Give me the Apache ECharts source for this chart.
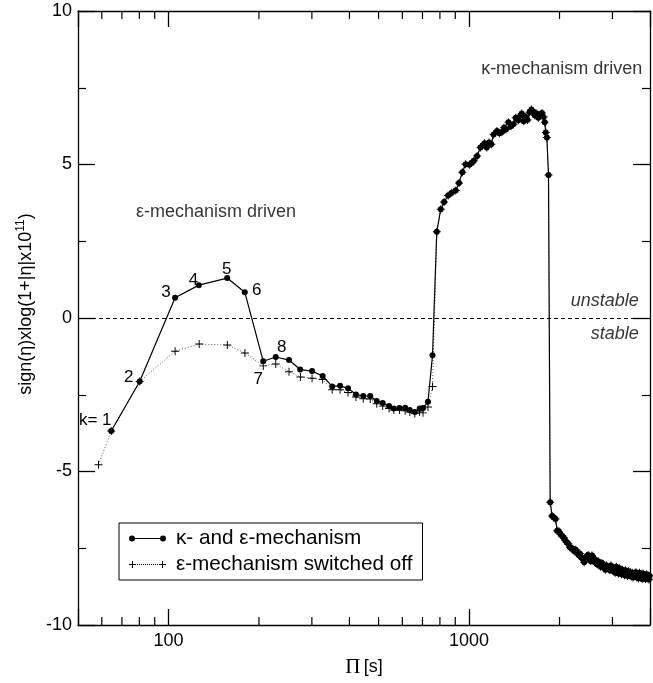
<!DOCTYPE html>
<html><head><meta charset="utf-8">
<script src="https://cdn.jsdelivr.net/npm/echarts@6/dist/echarts.min.js"></script>
<style>html,body{margin:0;padding:0;background:#fff}#c{width:653px;height:683px}</style>
</head><body><div id="c"></div>
<script>
// ---- data ----
const periodsLowFull = [64.5, 80.2, 105.2, 126.2, 156.8, 179.4, 206.7, 227.5, 251.8, 274.3, 300.4, 325.8, 350.5, 372.4, 395.7, 420.5, 444.7, 469, 493, 516, 542, 562, 587, 613, 635, 660, 685, 703, 730, 756];
const etaLowFull = [-3.68, -2.07, 0.66, 1.07, 1.30, 0.84, -1.41, -1.27, -1.37, -1.68, -1.73, -1.89, -2.23, -2.21, -2.29, -2.49, -2.54, -2.54, -2.70, -2.77, -2.87, -2.95, -2.93, -2.92, -3.00, -3.06, -2.95, -2.93, -2.73, -1.21];
const periodsLowOff = [58.5, 64.5, 80.2, 105.2, 126.5, 157, 179.6, 206.7, 227.5, 251.8, 274.8, 300.4, 325.8, 350.5, 372.4, 395.7, 420.5, 444.7, 469, 493, 516, 542, 562, 587, 613, 635, 660, 685, 703, 730, 756];
const etaLowOff = [-4.78, -3.68, -2.07, -1.08, -0.85, -0.88, -1.14, -1.56, -1.50, -1.75, -1.92, -1.96, -2.00, -2.34, -2.34, -2.43, -2.57, -2.63, -2.64, -2.79, -2.87, -2.95, -3.00, -3.00, -3.02, -3.06, -3.11, -3.06, -3.09, -2.90, -2.23];
const periodsKappa = [781, 805, 826, 852, 876, 903, 926, 950, 974, 1002, 1020, 1037, 1064, 1091, 1110, 1127, 1145, 1165, 1186, 1207, 1239, 1262, 1287, 1307, 1327, 1352, 1378, 1405, 1430, 1459, 1480, 1497, 1520, 1545, 1565, 1590, 1613, 1635, 1656, 1680, 1700, 1725, 1748, 1770, 1786, 1800, 1815, 1838, 1862];
const etaKappa = [2.81, 3.54, 3.78, 3.99, 4.08, 4.15, 4.40, 4.75, 5.01, 4.99, 5.05, 5.12, 5.28, 5.55, 5.62, 5.69, 5.55, 5.72, 5.66, 5.98, 6.09, 6.02, 6.06, 6.20, 6.14, 6.38, 6.25, 6.31, 6.52, 6.44, 6.58, 6.66, 6.41, 6.55, 6.45, 6.70, 6.79, 6.72, 6.60, 6.66, 6.52, 6.62, 6.68, 6.55, 6.38, 6.04, 5.88, 4.66, -6.00];
const periodsTail = [1890,1915,1940,1965,1990,2015,2040,2065,2090,2115,2140,2165,2190,2215,2240,2265,2290,2315,2340,2365,2390,2415,2440,2465,2490,2515,2540,2565,2590,2615,2640,2665,2690,2715,2740,2765,2790,2815,2840,2865,2890,2915,2940,2965,2990,3015,3040,3065,3090,3115,3140,3165,3190,3215,3240,3265,3290,3315,3340,3365,3390,3415,3440,3465,3490,3515,3540,3565,3590,3615,3640,3665,3690,3715,3740,3765,3790,3815,3840,3865,3890,3915,3940,3965,3990];
const etaTail = [-6.45,-6.50,-6.55,-6.93,-6.95,-7.04,-7.10,-7.15,-7.25,-7.31,
  -7.35,-7.47,-7.50,-7.52,-7.60,-7.55,-7.65,-7.72,-7.68,-7.80,
  -7.85,-7.96,-7.80,-7.75,-7.72,-7.85,-7.92,-7.74,-7.80,-7.95,
  -7.90,-8.02,-7.92,-8.05,-8.10,-7.98,-8.01,-8.12,-8.20,-8.06,
  -8.10,-8.18,-8.22,-8.06,-8.12,-8.25,-8.15,-8.30,-8.10,-8.20,
  -8.32,-8.15,-8.25,-8.35,-8.20,-8.30,-8.38,-8.22,-8.35,-8.40,
  -8.25,-8.38,-8.28,-8.42,-8.30,-8.45,-8.32,-8.40,-8.28,-8.45,
  -8.35,-8.48,-8.30,-8.42,-8.38,-8.50,-8.32,-8.45,-8.40,-8.50,
  -8.35,-8.48,-8.38,-8.52,-8.40];
const modeLabels = ['k= 1', '2', '3', '4', '5', '6', '7', '8'];
const xMinorTicks = [60, 70, 80, 90, 200, 300, 400, 500, 600, 700, 800, 900, 2000, 3000];
const annotations = ['ε-mechanism driven', 'κ-mechanism driven', 'unstable', 'stable'];
const annotationAnchors = [[78, 3.46], [1097, 8.11], [3673, 0.55], [3673, -0.53]];
const seriesNames = ['κ- and ε-mechanism', 'ε-mechanism switched off'];

// ---- styling / layout ----
const FONT = 'Liberation Sans';
const labelOffsets = [[-16, -11], [-11, -4], [-9, -5], [-5.5, -5], [-0.5, -9], [12, -2], [-5, 18], [6, -10]];
const annotationStyle = [
  {position: 'right', fontStyle: 'normal'},
  {position: 'right', fontStyle: 'normal'},
  {position: 'left', fontStyle: 'italic'},
  {position: 'left', fontStyle: 'italic'}
];

function pairs(xs, ys) { const n = Math.min(xs.length, ys.length); const out = []; for (let i = 0; i < n; i++) out.push([xs[i], ys[i]]); return out; }

const fullData = pairs(periodsLowFull.concat(periodsKappa, periodsTail), etaLowFull.concat(etaKappa, etaTail)).map((p, i) => {
  if (i < modeLabels.length) {
    return {value: p, label: {show: true, position: 'inside', formatter: modeLabels[i], offset: labelOffsets[i], fontSize: 17, fontFamily: FONT, color: '#000'}};
  }
  return {value: p};
});
const offData = pairs(periodsLowOff.concat(periodsKappa, periodsTail), etaLowOff.concat(etaKappa, etaTail));

const plusPath = 'path://M0,4.4H10V5.6H0ZM4.4,0H5.6V10H4.4Z';
const solidIcon = 'path://M0,4a3,3 0 1,0 6,0a3,3 0 1,0 -6,0ZM31,4a3,3 0 1,0 6,0a3,3 0 1,0 -6,0ZM6,3.45H31V4.55H6Z';
let plusIcon = 'path://M0,3.5H7V4.5H0ZM3,0.5H4V7.5H3ZM30,3.5H37V4.5H30ZM33,0.5H34V7.5H33Z';
for (let x = 8; x < 29.5; x += 2) plusIcon += 'M' + x + ',3.6H' + (x + 1) + 'V4.4H' + x + 'Z';

const axisLineStyle = {color: '#000', width: 1.3};
const xAxisBase = {
  type: 'log', logBase: 10, min: 50, max: 4000,
  axisLine: {show: true, onZero: false, lineStyle: axisLineStyle},
  axisTick: {show: true, inside: true, length: 16, lineStyle: {color: '#000', width: 1.3}},
  splitLine: {show: false}, minorTick: {show: false}, minorSplitLine: {show: false}
};
const yAxisBase = {
  type: 'value', min: -10, max: 10, interval: 5,
  axisLine: {show: true, onZero: false, lineStyle: axisLineStyle},
  axisTick: {show: true, inside: true, length: 17, lineStyle: {color: '#000', width: 1.3}},
  minorTick: {show: true, splitNumber: 2, length: 8, lineStyle: {color: '#000', width: 1.2}},
  splitLine: {show: false}
};

const chart = echarts.init(document.getElementById('c'), null, {renderer: 'canvas'});
chart.setOption({
  animation: false,
  backgroundColor: '#fff',
  grid: {left: 78, right: -3, top: 11, bottom: 53, containLabel: false},
  xAxis: [
    Object.assign({}, xAxisBase, {
      position: 'bottom',
      axisLabel: {show: true, margin: 7, fontSize: 18, fontFamily: FONT, color: '#000',
        formatter: v => { const l = Math.log10(v); return Math.abs(l - Math.round(l)) < 1e-6 && v >= 100 && v <= 1000 ? String(Math.round(v)) : ''; }},
      name: '{p|Π} {b|[s]}', nameLocation: 'middle', nameGap: 32,
      nameTextStyle: {rich: {p: {fontFamily: 'Liberation Serif', fontSize: 21, color: '#000'}, b: {fontFamily: FONT, fontSize: 18, color: '#000'}}}
    }),
    Object.assign({}, xAxisBase, {position: 'top', axisLabel: {show: false}})
  ],
  yAxis: [
    Object.assign({}, yAxisBase, {
      position: 'left',
      axisLabel: {show: true, margin: 6, fontSize: 18, fontFamily: FONT, color: '#000'},
      name: '{a|sign(η)xlog(1+|η|x10}{s|11}{a|)}', nameLocation: 'middle', nameGap: 40, nameRotate: 90,
      nameTextStyle: {padding: [0, 0, 0, 28], rich: {a: {fontFamily: FONT, fontSize: 18, color: '#000', lineHeight: 22}, s: {fontFamily: FONT, fontSize: 12, color: '#000', verticalAlign: 'top', lineHeight: 12}}}
    }),
    Object.assign({}, yAxisBase, {position: 'right', axisLabel: {show: false}})
  ],
  legend: {
    show: true, orient: 'vertical', left: 119, top: 523,
    borderColor: '#000', borderWidth: 1, padding: [5, 10, 5, 10],
    itemWidth: 37, itemHeight: 8, itemGap: 5, itemSymbolKeepAspect: false,
    textStyle: {fontFamily: FONT, fontSize: 20.7, color: '#000', lineHeight: 20, padding: [0, 0, 0, 5]},
    data: [{name: seriesNames[0], icon: solidIcon}, {name: seriesNames[1], icon: plusIcon}],
    selectedMode: false
  },
  series: [
    {
      name: seriesNames[1], type: 'line', xAxisIndex: 0, yAxisIndex: 0,
      data: offData, symbol: plusPath, symbolSize: 8, showAllSymbol: true,
      lineStyle: {color: '#555', width: 1, type: [1, 2]},
      itemStyle: {color: '#000'}, z: 2, clip: true
    },
    {
      name: seriesNames[0], type: 'line', xAxisIndex: 0, yAxisIndex: 0,
      data: fullData, symbol: 'circle', symbolSize: 6, showAllSymbol: true,
      lineStyle: {color: '#000', width: 1.2},
      itemStyle: {color: '#000'}, z: 3, clip: true,
      markLine: {silent: true, symbol: 'none', label: {show: false},
        lineStyle: {color: '#000', width: 1, type: [4, 3]}, data: [{yAxis: 0}]}
    },
    {
      type: 'custom', xAxisIndex: 0, yAxisIndex: 0, silent: true, z: 5,
      data: xMinorTicks.map(v => [v, 0]),
      encode: {x: 0, y: 1},
      renderItem: (params, api) => {
        const v = api.value(0);
        const b = api.coord([v, -10]);
        const t = api.coord([v, 10]);
        const st = {stroke: '#000', lineWidth: 1.2};
        return {type: 'group', children: [
          {type: 'line', shape: {x1: b[0], y1: b[1], x2: b[0], y2: b[1] - 8}, style: st},
          {type: 'line', shape: {x1: t[0], y1: t[1], x2: t[0], y2: t[1] + 8}, style: st}
        ]};
      }
    },
    {
      type: 'scatter', xAxisIndex: 0, yAxisIndex: 0, silent: true, symbolSize: 0, z: 6,
      data: annotationAnchors.map((p, i) => ({
        value: p,
        label: {show: true, formatter: annotations[i], position: annotationStyle[i].position, distance: 0,
          fontStyle: annotationStyle[i].fontStyle, fontSize: 18, fontFamily: FONT, color: '#000'}
      }))
    }
  ]
});
</script></body></html>
